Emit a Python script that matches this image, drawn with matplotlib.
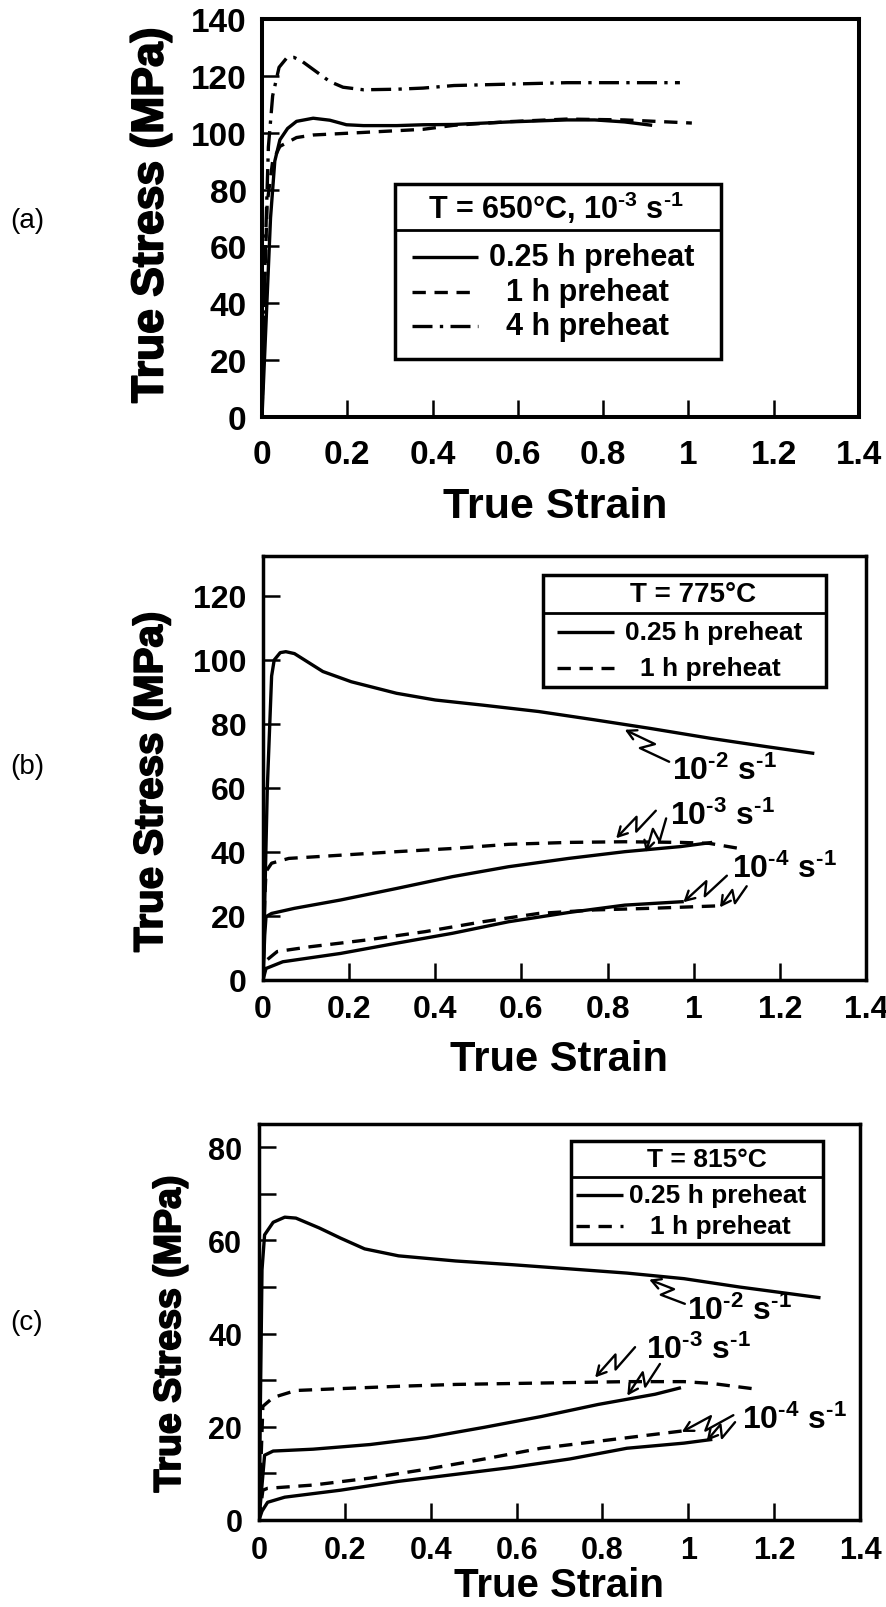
import numpy as np
import matplotlib
matplotlib.use('Agg')
import matplotlib.pyplot as plt
import matplotlib.patheffects as pe
from matplotlib.patches import Rectangle, FancyArrowPatch
from matplotlib.path import Path

plt.rcParams['font.family'] = 'Liberation Sans'
plt.rcParams['font.weight'] = 'bold'
plt.rcParams['mathtext.fontset'] = 'custom'
plt.rcParams['mathtext.rm'] = 'Liberation Sans:bold'
plt.rcParams['mathtext.default'] = 'rm'

# ---------------- panel (a): 650 C, 1e-3 /s ----------------
a_strain_025 = [0, 0.01, 0.02, 0.03, 0.042, 0.06, 0.081, 0.12, 0.159, 0.198, 0.238, 0.316,
                0.378, 0.45, 0.58, 0.715, 0.78, 0.85, 0.915]
a_stress_025 = [0, 35, 70, 90, 97.5, 101.5, 104, 105.1, 104.4, 102.8, 102.5, 102.5,
                102.8, 102.9, 103.8, 104.5, 104.5, 103.8, 102.6]
a_strain_1 = [0, 0.005, 0.012, 0.025, 0.042, 0.081, 0.12, 0.238, 0.378, 0.45, 0.58,
              0.715, 0.85, 1.008]
a_stress_1 = [0, 40, 75, 90, 95.2, 98.3, 99.2, 100.1, 101.2, 102.6, 103.9,
              104.8, 104.5, 103.4]
a_strain_4 = [0, 0.008, 0.015, 0.025, 0.04, 0.058, 0.075, 0.095, 0.116, 0.159, 0.19,
              0.238, 0.316, 0.378, 0.45, 0.715, 0.98]
a_stress_4 = [0, 60, 95, 113, 123, 126.3, 126.5, 125, 122.7, 118, 116,
              115.1, 115.3, 115.7, 116.6, 117.6, 117.6]

# ---------------- panel (b): 775 C ----------------
b_strain_2_025 = [0, 0.01, 0.02, 0.026, 0.04, 0.053, 0.073, 0.139, 0.205, 0.31, 0.40, 0.51,
                  0.64, 0.77, 0.90, 1.04, 1.17, 1.28]
b_stress_2_025 = [0, 60, 95, 100, 102.3, 102.6, 102, 96.4, 93.2, 89.6, 87.5, 85.9,
                  83.9, 81.3, 78.6, 75.5, 72.9, 70.8]
b_strain_3_1 = [0, 0.004, 0.007, 0.02, 0.06, 0.18, 0.31, 0.44, 0.57, 0.71, 0.84, 0.97,
                1.036, 1.115]
b_stress_3_1 = [0, 25, 33.9, 36.5, 38, 39, 40.1, 41.1, 42.4, 43, 43.2, 43,
                42.7, 40.9]
b_strain_3_025 = [0, 0.004, 0.007, 0.02, 0.073, 0.18, 0.31, 0.44, 0.57, 0.71, 0.84, 0.97,
                  1.043]
b_stress_3_025 = [0, 14, 19.8, 20.8, 22.4, 25, 28.6, 32.3, 35.4, 38, 40.1, 41.7,
                  43]
b_strain_4_025 = [0, 0.007, 0.046, 0.18, 0.31, 0.44, 0.57, 0.71, 0.84, 0.977]
b_stress_4_025 = [0, 3.6, 5.7, 8.3, 11.5, 14.6, 18.2, 21.1, 23.4, 24.5]
b_strain_4_1 = [0, 0.004, 0.033, 0.11, 0.24, 0.376, 0.51, 0.64, 0.77, 0.90, 1.063]
b_stress_4_1 = [0, 5.7, 8.9, 10.4, 12.5, 15.1, 18.2, 20.8, 21.9, 22.4, 23.2]

# ---------------- panel (c): 815 C ----------------
c_strain_2_025 = [0, 0.007, 0.013, 0.033, 0.06, 0.086, 0.14, 0.19, 0.246, 0.325, 0.458,
                  0.59, 0.724, 0.857, 0.99, 1.12, 1.308]
c_stress_2_025 = [0, 53.7, 61.2, 63.9, 65, 64.8, 62.7, 60.5, 58.2, 56.7, 55.6,
                  54.8, 53.9, 53, 51.8, 50, 47.7]
c_strain_3_1 = [0, 0.009, 0.033, 0.086, 0.19, 0.325, 0.458, 0.59, 0.724, 0.857, 0.99,
                1.056, 1.149]
c_stress_3_1 = [0, 24.4, 26.3, 27.8, 28.2, 28.7, 29.1, 29.3, 29.5, 29.7, 29.7,
                29.3, 28.2]
c_strain_3_025 = [0, 0.013, 0.033, 0.126, 0.259, 0.39, 0.525, 0.657, 0.79, 0.923, 0.983]
c_stress_3_025 = [0, 13.9, 14.8, 15.2, 16.2, 17.7, 19.9, 22.2, 24.8, 27, 28.4]
c_strain_4_1 = [0, 0.009, 0.02, 0.126, 0.259, 0.39, 0.525, 0.657, 0.79, 0.923, 1.003]
c_stress_4_1 = [0, 6.4, 6.8, 7.5, 9, 10.9, 13.1, 15.4, 16.9, 18.4, 19.3]
c_strain_4_025 = [0, 0.007, 0.02, 0.06, 0.19, 0.325, 0.458, 0.59, 0.724, 0.857, 0.99, 1.056]
c_stress_4_025 = [0, 1.9, 3.8, 4.9, 6.4, 8.3, 9.8, 11.3, 13.1, 15.4, 16.5, 17.3]

x_ticks = [0, 0.2, 0.4, 0.6, 0.8, 1.0, 1.2, 1.4]
x_ticklabels = ['0', '0.2', '0.4', '0.6', '0.8', '1', '1.2', '1.4']

HY = '\u2010'  # short hyphen for the exponents
rate_labels = ['10$^{' + HY + '2}$ s$^{' + HY + '1}$',
               '10$^{' + HY + '3}$ s$^{' + HY + '1}$',
               '10$^{' + HY + '4}$ s$^{' + HY + '1}$']

W, H = 887, 1608
fig = plt.figure(figsize=(W / 100, H / 100), dpi=100)

SOLID = dict(color='k', lw=2.4, solid_capstyle='butt')
DASH = dict(color='k', lw=2.4, dashes=(4, 2.6))
DASHDOT = dict(color='k', lw=2.4, dashes=(6, 2.2, 1, 2.2))
HEAVY = [pe.withStroke(linewidth=1.3, foreground='k')]


def add_axes_px(left, top, right, bottom):
    return fig.add_axes([left / W, 1 - bottom / H, (right - left) / W, (bottom - top) / H])


def style_axes(ax, ymax, yticks, fs, xpad, ypad, spine_w, minor=None):
    ax.set_xlim(0, 1.4)
    ax.set_ylim(0, ymax)
    ax.set_xticks(x_ticks)
    ax.set_xticklabels(x_ticklabels)
    ax.set_yticks(yticks)
    ax.set_yticklabels([str(v) for v in yticks])
    if minor is not None:
        ax.set_yticks(minor, minor=True)
    ax.tick_params(axis='both', which='both', direction='in', length=12.5, width=1.8,
                   top=False, right=False, labelsize=fs)
    ax.tick_params(axis='x', pad=xpad)
    ax.tick_params(axis='y', pad=ypad)
    for lab in ax.get_xticklabels() + ax.get_yticklabels():
        lab.set_fontweight('bold')
    for s in ax.spines.values():
        s.set_linewidth(spine_w)


def legend_box(ax, x0, x1, y0, ysep, y1, title, title_x, title_y, rows, fs, title_fs):
    ax.add_patch(Rectangle((x0, y0), x1 - x0, y1 - y0, transform=ax.transAxes,
                           facecolor='white', edgecolor='k', lw=2.5, zorder=5))
    ax.plot([x0, x1], [ysep, ysep], transform=ax.transAxes, color='k', lw=2.0, zorder=6)
    ax.text(title_x, title_y, title, transform=ax.transAxes, ha='center', va='center',
            fontsize=title_fs, fontweight='bold', zorder=7)
    for (lx0, lx1, ly, tx, label, style) in rows:
        ax.plot([lx0, lx1], [ly, ly], transform=ax.transAxes, zorder=7, **style)
        ax.text(tx, ly, label, transform=ax.transAxes, ha='left', va='center',
                fontsize=fs, fontweight='bold', zorder=7)


def bolt(ax, head, tail, w=6.0):
    T = ax.transData.transform(tail)
    Hh = ax.transData.transform(head)
    d = Hh - T
    L = np.hypot(*d)
    u = d / L
    n = np.array([-u[1], u[0]])
    verts = [T, T + 0.58 * d + n * w, T + 0.40 * d - n * w, Hh]
    verts = ax.transData.inverted().transform(np.array(verts))
    p = FancyArrowPatch(path=Path(verts), arrowstyle='->,head_length=0.55,head_width=0.3',
                        mutation_scale=12, lw=1.7, color='k', transform=ax.transData, zorder=4)
    ax.add_patch(p)


def rate_text(ax, x, y, s, fs=23):
    ax.text(x, y, s, ha='left', va='center', fontsize=fs, fontweight='bold', zorder=4)


def ylabel_px(x, y, fs):
    fig.text(x / W, 1 - y / H, 'True Stress (MPa)', rotation=90, ha='center', va='center',
             fontsize=fs, fontweight='bold', path_effects=HEAVY)


# ================= (a) =================
ax_a = add_axes_px(262, 20, 859, 418)
style_axes(ax_a, 140, [0, 20, 40, 60, 80, 100, 120, 140], 24, 16, 11, 2.9)
ax_a.plot(a_strain_025, a_stress_025, **SOLID)
ax_a.plot(a_strain_1, a_stress_1, **DASH)
ax_a.plot(a_strain_4, a_stress_4, **DASHDOT)
legend_box(ax_a, 0.223, 0.769, 0.146, 0.470, 0.585,
           'T = 650°C, 10$^{' + HY + '3}$ s$^{' + HY + '1}$', 0.492, 0.528,
           [(0.252, 0.362, 0.402, 0.381, '0.25 h preheat', SOLID),
            (0.252, 0.362, 0.314, 0.408, '1 h preheat', DASH),
            (0.252, 0.362, 0.229, 0.408, '4 h preheat', DASHDOT)], 22, 22)
ylabel_px(151, 216, 32)
fig.text(555 / W, 1 - 507 / H, 'True Strain', ha='center', va='center',
         fontsize=31, fontweight='bold')
fig.text(27 / W, 1 - 221 / H, '(a)', ha='center', va='center', fontsize=20, fontweight='normal')

# ================= (b) =================
ax_b = add_axes_px(263, 557, 866, 981)
style_axes(ax_b, 132.5, [0, 20, 40, 60, 80, 100, 120], 23, 10, 12, 2.5)
ax_b.plot(b_strain_2_025, b_stress_2_025, **SOLID)
ax_b.plot(b_strain_3_1, b_stress_3_1, **DASH)
ax_b.plot(b_strain_3_025, b_stress_3_025, **SOLID)
ax_b.plot(b_strain_4_025, b_stress_4_025, **SOLID)
ax_b.plot(b_strain_4_1, b_stress_4_1, **DASH)
legend_box(ax_b, 0.464, 0.934, 0.691, 0.866, 0.955, 'T = 775°C', 0.713, 0.910,
           [(0.488, 0.582, 0.821, 0.600, '0.25 h preheat', SOLID),
            (0.488, 0.582, 0.736, 0.625, '1 h preheat', DASH)], 19, 20)
bolt(ax_b, (0.840, 78.2), (0.943, 68.2))
bolt(ax_b, (0.820, 44.3), (0.912, 52.9))
bolt(ax_b, (0.889, 39.9), (0.936, 50.5))
bolt(ax_b, (0.976, 24.3), (1.077, 32.6))
bolt(ax_b, (1.061, 22.7), (1.123, 29.3))
rate_text(ax_b, 0.949, 65.4, rate_labels[0])
rate_text(ax_b, 0.945, 51.3, rate_labels[1])
rate_text(ax_b, 1.088, 34.9, rate_labels[2])
ylabel_px(151, 783, 29)
fig.text(559 / W, 1 - 1060 / H, 'True Strain', ha='center', va='center',
         fontsize=30, fontweight='bold')
fig.text(27 / W, 1 - 767 / H, '(b)', ha='center', va='center', fontsize=20, fontweight='normal')

# ================= (c) =================
ax_c = add_axes_px(259, 1125, 860, 1521)
style_axes(ax_c, 85, [0, 20, 40, 60, 80], 22, 11, 12, 2.5, minor=[10, 30, 50, 70])
ax_c.plot(c_strain_2_025, c_stress_2_025, **SOLID)
ax_c.plot(c_strain_3_1, c_stress_3_1, **DASH)
ax_c.plot(c_strain_3_025, c_stress_3_025, **SOLID)
ax_c.plot(c_strain_4_1, c_stress_4_1, **DASH)
ax_c.plot(c_strain_4_025, c_stress_4_025, **SOLID)
legend_box(ax_c, 0.519, 0.938, 0.697, 0.866, 0.957, 'T = 815°C', 0.745, 0.912,
           [(0.528, 0.606, 0.821, 0.616, '0.25 h preheat', SOLID),
            (0.528, 0.606, 0.742, 0.650, '1 h preheat', DASH)], 19, 19)
bolt(ax_c, (0.909, 51.6), (0.992, 46.4))
bolt(ax_c, (0.783, 30.6), (0.876, 37.1))
bolt(ax_c, (0.858, 26.7), (0.934, 33.5))
bolt(ax_c, (0.985, 18.9), (1.105, 22.5))
bolt(ax_c, (1.043, 17.0), (1.109, 21.0))
rate_text(ax_c, 0.996, 44.9, rate_labels[0])
rate_text(ax_c, 0.901, 36.7, rate_labels[1])
rate_text(ax_c, 1.124, 21.7, rate_labels[2])
ylabel_px(170, 1335, 27)
fig.text(559 / W, 1 - 1597 / H, 'True Strain', ha='center', va='baseline',
         fontsize=29, fontweight='bold')
fig.text(27 / W, 1 - 1323 / H, '(c)', ha='center', va='center', fontsize=20, fontweight='normal')

fig.savefig('out.png', dpi=100)
